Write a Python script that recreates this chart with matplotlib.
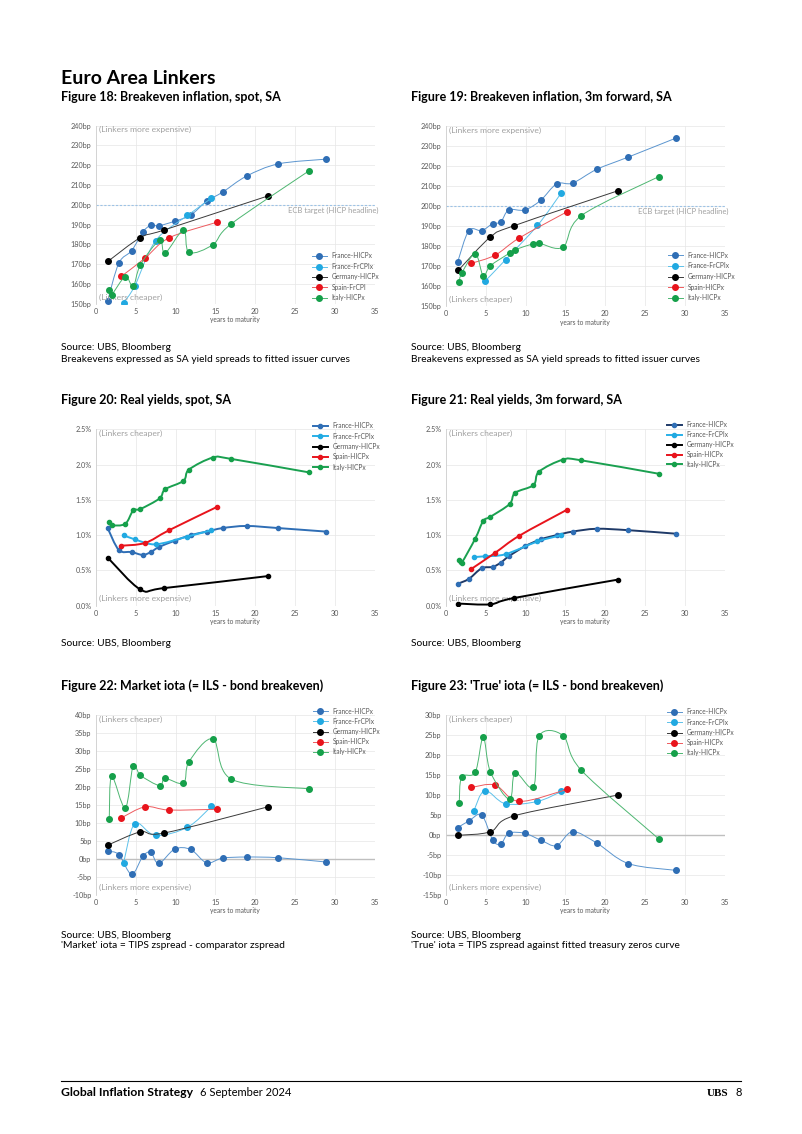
import numpy as np
import matplotlib
matplotlib.use('Agg')
import matplotlib.pyplot as plt
from matplotlib.path import Path
from matplotlib.patches import PathPatch
from matplotlib.lines import Line2D
from matplotlib.ticker import FuncFormatter

plt.rcParams['font.family'] = ['Lato', 'DejaVu Sans']

nan = np.nan
# ---------------- data ----------------
# maturities (years to maturity)
x_fr_hicp = [1.5, 2.9, 4.5, 5.9, 6.9, 7.9, 9.9, 11.9, 13.9, 15.9, 18.9, 22.9, 28.9]
x_fr_frcpi = [3.5, 4.9, 7.5, 11.5, 14.5]
x_de = [1.6, 5.6, 8.6, 21.6]
x_es = [3.2, 6.2, 9.2, 15.2]
x_it = [1.7, 2.0, 3.7, 4.7, 5.6, 8.0, 8.7, 11.0, 11.7, 14.7, 17.0, 26.7]

labels_18 = ['France-HICPx', 'France-FrCPIx', 'Germany-HICPx', 'Spain-FrCPI', 'Italy-HICPx']
labels = ['France-HICPx', 'France-FrCPIx', 'Germany-HICPx', 'Spain-HICPx', 'Italy-HICPx']

# Figure 18: breakeven inflation, spot, SA (bp)
be_spot_fr_hicp = [151.5, 170.5, 176.8, 186.2, 189.7, 189.4, 191.7, 194.8, 201.8, 206.4, 214.5, 220.7, 223.1]
be_spot_fr_frcpi = [150.5, 159.0, 181.8, 194.6, 203.3]
be_spot_de = [171.6, 183.4, 187.3, 204.5]
be_spot_es = [163.8, 173.1, 183.3, 191.2]
be_spot_it = [156.8, 154.6, 163.6, 158.8, 169.6, 182.0, 175.6, 187.2, 175.9, 179.9, 190.4, 217.1]

# Figure 19: breakeven inflation, 3m forward, SA (bp)
be_fwd_fr_hicp = [172.1, 187.7, 187.7, 191.2, 192.0, 198.0, 198.0, 202.8, 211.0, 211.4, 218.2, 224.4, 233.9]
be_fwd_fr_frcpi = [nan, 162.4, 173.2, 190.3, 206.6]
be_fwd_de = [168.0, 184.5, 190.2, 207.6]
be_fwd_es = [171.4, 175.5, 184.0, 197.1]
be_fwd_it = [162.3, 166.4, 176.2, 165.2, 170.2, 176.5, 178.2, 181.2, 181.5, 179.5, 195.2, 214.6]

# Figure 20: real yields, spot, SA (%)
ry_spot_fr_hicp = [1.10, 0.79, 0.76, 0.72, 0.76, 0.83, 0.92, 1.00, 1.05, 1.10, 1.13, 1.10, 1.05]
ry_spot_fr_frcpi = [1.00, 0.94, 0.87, 0.98, 1.07]
ry_spot_de = [0.67, 0.23, 0.25, 0.42]
ry_spot_es = [0.85, 0.89, 1.07, 1.40]
ry_spot_it = [1.18, 1.14, 1.16, 1.35, 1.37, 1.52, 1.65, 1.77, 1.93, 2.10, 2.08, 1.89]

# Figure 21: real yields, 3m forward, SA (%)
ry_fwd_fr_hicp = [0.31, 0.38, 0.53, 0.55, 0.61, 0.70, 0.84, 0.94, 1.00, 1.05, 1.09, 1.07, 1.02]
ry_fwd_fr_frcpi = [0.69, 0.70, 0.73, 0.91, 1.00]
ry_fwd_de = [0.03, 0.02, 0.11, 0.37]
ry_fwd_es = [0.52, 0.75, 0.99, 1.36]
ry_fwd_it = [0.65, 0.61, 0.95, 1.20, 1.26, 1.44, 1.60, 1.71, 1.90, 2.07, 2.06, 1.87]

# Figure 22: market iota (bp)
mi_fr_hicp = [2.1, 1.2, -4.3, 0.7, 1.8, -1.3, 2.7, 2.6, -1.1, 0.2, 0.5, 0.3, -0.9]
mi_fr_frcpi = [-1.1, 9.8, 6.5, 8.8, 14.6]
mi_de = [3.9, 7.5, 7.2, 14.5]
mi_es = [11.4, 14.5, 13.6, 13.8]
mi_it = [11.2, 23.0, 14.2, 26.0, 23.3, 20.4, 22.4, 21.1, 27.1, 33.4, 22.2, 19.5]

# Figure 23: 'true' iota (bp)
ti_fr_hicp = [1.8, 3.5, 5.0, -1.3, -2.3, 0.4, 0.4, -1.3, -2.7, 0.8, -2.0, -7.2, -8.9]
ti_fr_frcpi = [5.9, 11.1, 7.8, 8.4, 10.9]
ti_de = [-0.1, 0.8, 4.8, 10.0]
ti_es = [11.9, 12.5, 8.4, 11.4]
ti_it = [8.1, 14.5, 15.7, 24.5, 15.8, 8.9, 15.6, 12.0, 24.8, 24.9, 16.2, -1.0]

xs = [x_fr_hicp, x_fr_frcpi, x_de, x_es, x_it]

# ---------------- styling ----------------
W, H = 802, 1134
fig = plt.figure(figsize=(W / 100, H / 100), dpi=100)
fig.patch.set_facecolor('white')

def fx(px):
    return px / W

def fy(py):
    return 1 - py / H

MK = ['#2F6EB5', '#21A9E1', '#000000', '#E8141C', '#15A04A']
LN_THIN = ['#5B95CF', '#5DC1EA', '#3A3A3A', '#EE5A5E', '#4DB671']
LN_20 = ['#2F6EB5', '#29B0E8', '#000000', '#E8141C', '#1AA050']
LN_21 = ['#1F3A68', '#29B0E8', '#000000', '#E8141C', '#1AA050']

GRAY_TXT = '#595959'
ANN = '#A0A0A0'
LEG_FS = 4.8


def smooth_path(x, y):
    pts = np.array([(a, b) for a, b in zip(x, y) if not np.isnan(b)], dtype=float)
    n = len(pts)
    verts = [pts[0]]
    codes = [Path.MOVETO]
    for i in range(n - 1):
        p0 = pts[i - 1] if i > 0 else pts[i]
        p1 = pts[i]
        p2 = pts[i + 1]
        p3 = pts[i + 2] if i + 2 < n else pts[i + 1]
        c1 = p1 + (p2 - p0) / 6.0
        c2 = p2 - (p3 - p1) / 6.0
        verts += [c1, c2, p2]
        codes += [Path.CURVE4] * 3
    return Path(verts, codes)


def make_chart(left, top, right, bottom, ylim, yticks, fmt, ys, labs, lcols, lw, ms,
               leg_left, leg_top, leg_rows, top_note, bottom_note, zero_line=False,
               ecb=False, mcols=MK):
    ax = fig.add_axes([fx(left), fy(bottom), fx(right) - fx(left), (bottom - top) / H])
    ax.set_xlim(0, 35)
    ax.set_ylim(*ylim)
    ax.set_xticks(range(0, 36, 5))
    ax.set_yticks(yticks)
    ax.yaxis.set_major_formatter(FuncFormatter(fmt))
    ax.tick_params(length=0, labelsize=5.2, colors=GRAY_TXT, pad=3)
    ax.grid(True, color='#E6E6E6', lw=0.5)
    ax.set_axisbelow(True)
    for s in ['top', 'right', 'bottom']:
        ax.spines[s].set_visible(False)
    ax.spines['left'].set_color('#D0D0D0')
    ax.spines['left'].set_linewidth(0.6)
    ax.set_xlabel('years to maturity', fontsize=4.8, color=GRAY_TXT, labelpad=1)
    if zero_line:
        ax.axhline(0, color='#BFBFBF', lw=1.0, zorder=1.5)
    if ecb:
        ax.axhline(200, color='#9DC3E6', lw=0.8, ls=(0, (2, 1.5)), zorder=1.5)
        ax.text(35.4, 199.0, 'ECB target (HICP headline)', ha='right', va='top',
                fontsize=5.5, color=ANN, clip_on=False)
    handles = []
    for i, (x, y) in enumerate(zip(xs, ys)):
        pth = smooth_path(x, y)
        ax.add_patch(PathPatch(pth, fill=False, edgecolor=lcols[i], lw=lw, zorder=2 + i))
        ax.plot(x, y, ls='none', marker='o', ms=ms, color=mcols[i], mec=mcols[i],
                zorder=2.5 + i)
        handles.append(Line2D([], [], color=lcols[i], lw=lw, marker='o', ms=ms,
                              mfc=mcols[i], mec=mcols[i]))
    ax.text(0.012, top_note[1], top_note[0], transform=ax.transAxes, fontsize=6.1,
            color=ANN, ha='left', va='center')
    ax.text(0.012, bottom_note[1], bottom_note[0], transform=ax.transAxes, fontsize=6.1,
            color=ANN, ha='left', va='center')
    fs_px = LEG_FS * 100 / 72
    spacing = (leg_rows - 7.0) / fs_px
    ax.legend(handles, labs, loc='upper left', bbox_to_anchor=(fx(leg_left), fy(leg_top)),
              bbox_transform=fig.transFigure, frameon=False, fontsize=LEG_FS,
              handlelength=2.2, handletextpad=0.75, borderpad=0, borderaxespad=0,
              labelspacing=spacing, labelcolor=GRAY_TXT)
    return ax

bp = lambda v, p: f'{int(round(v))}bp'
pct = lambda v, p: f'{v:.1f}%'

# Figure 18
make_chart(95.7, 125.7, 375, 303.7, (150, 240), range(150, 241, 10), bp,
           [be_spot_fr_hicp, be_spot_fr_frcpi, be_spot_de, be_spot_es, be_spot_it],
           labels_18, LN_THIN, 0.7, 4.0, 312, 252.5, 10.4,
           ('(Linkers more expensive)', 0.978), ('(Linkers cheaper)', 0.036), ecb=True)
# Figure 19
make_chart(445.7, 125.7, 725, 306.3, (150, 240), range(150, 241, 10), bp,
           [be_fwd_fr_hicp, be_fwd_fr_frcpi, be_fwd_de, be_fwd_es, be_fwd_it],
           labels, LN_THIN, 0.7, 4.0, 668, 251.5, 10.7,
           ('(Linkers more expensive)', 0.975), ('(Linkers cheaper)', 0.04), ecb=True)
# Figure 20
make_chart(95.7, 429.3, 375, 605.7, (0, 2.5), np.arange(0, 2.51, 0.5), pct,
           [ry_spot_fr_hicp, ry_spot_fr_frcpi, ry_spot_de, ry_spot_es, ry_spot_it],
           labels, LN_20, 1.4, 3.0, 313, 422.5, 10.3,
           ('(Linkers cheaper)', 0.978), ('(Linkers more expensive)', 0.042))
# Figure 21
make_chart(445.7, 429.3, 725, 605.7, (0, 2.5), np.arange(0, 2.51, 0.5), pct,
           [ry_fwd_fr_hicp, ry_fwd_fr_frcpi, ry_fwd_de, ry_fwd_es, ry_fwd_it],
           labels, LN_21, 1.4, 3.0, 667, 421.5, 9.8,
           ('(Linkers cheaper)', 0.978), ('(Linkers more expensive)', 0.042))
# Figure 22
make_chart(95.7, 715.3, 375, 894.7, (-10, 40), range(-10, 41, 5), bp,
           [mi_fr_hicp, mi_fr_frcpi, mi_de, mi_es, mi_it],
           labels, LN_THIN, 0.7, 4.0, 313, 707.5, 10.2,
           ('(Linkers cheaper)', 0.975), ('(Linkers more expensive)', 0.04), zero_line=True)
# Figure 23
make_chart(445.7, 715.3, 725, 894.7, (-15, 30), range(-15, 31, 5), bp,
           [ti_fr_hicp, ti_fr_frcpi, ti_de, ti_es, ti_it],
           labels, LN_THIN, 0.7, 4.0, 667, 708.5, 10.25,
           ('(Linkers cheaper)', 0.975), ('(Linkers more expensive)', 0.04), zero_line=True)

# ---------------- page text ----------------
def t(px, py, s, **kw):
    fig.text(fx(px), fy(py), s, va='center', ha=kw.pop('ha', 'left'), **kw)

HFS = 9.0
t(61, 79, 'Euro Area Linkers', fontsize=14.0, fontweight='bold', color='black')
t(61, 97, 'Figure 18: Breakeven inflation, spot, SA', fontsize=HFS, fontweight='bold')
t(411, 97, 'Figure 19: Breakeven inflation, 3m forward, SA', fontsize=HFS, fontweight='bold')
t(61, 400, 'Figure 20: Real yields, spot, SA', fontsize=HFS, fontweight='bold')
t(411, 400, 'Figure 21: Real yields, 3m forward, SA', fontsize=HFS, fontweight='bold')
t(61, 686, 'Figure 22: Market iota (= ILS - bond breakeven)', fontsize=HFS, fontweight='bold')
t(411, 686, "Figure 23: 'True' iota (= ILS - bond breakeven)", fontsize=HFS, fontweight='bold')

src = dict(fontsize=7.4, color='black')
t(61, 348, 'Source: UBS, Bloomberg', **src)
t(61, 359, 'Breakevens expressed as SA yield spreads to fitted issuer curves', **src)
t(411, 348, 'Source: UBS, Bloomberg', **src)
t(411, 359, 'Breakevens expressed as SA yield spreads to fitted issuer curves', **src)
t(61, 644, 'Source: UBS, Bloomberg', **src)
t(411, 644, 'Source: UBS, Bloomberg', **src)
t(61, 935, 'Source: UBS, Bloomberg', **src)
t(61, 946, "'Market' iota = TIPS zspread - comparator zspread", **src)
t(411, 935, 'Source: UBS, Bloomberg', **src)
t(411, 946, "'True' iota = TIPS zspread against fitted treasury zeros curve", **src)

# footer
fig.add_artist(Line2D([fx(61), fx(741)], [fy(1081), fy(1081)], color='black', lw=0.8))
t(61, 1093, 'Global Inflation Strategy', fontsize=8.7, fontweight='bold')
t(200, 1093, '6 September 2024', fontsize=8.0)
t(728, 1093, 'UBS', fontsize=8.0, fontweight='bold', family='Liberation Serif', ha='right')
t(735, 1093, '8', fontsize=8.0)

fig.savefig('out.png', dpi=100, facecolor='white')
